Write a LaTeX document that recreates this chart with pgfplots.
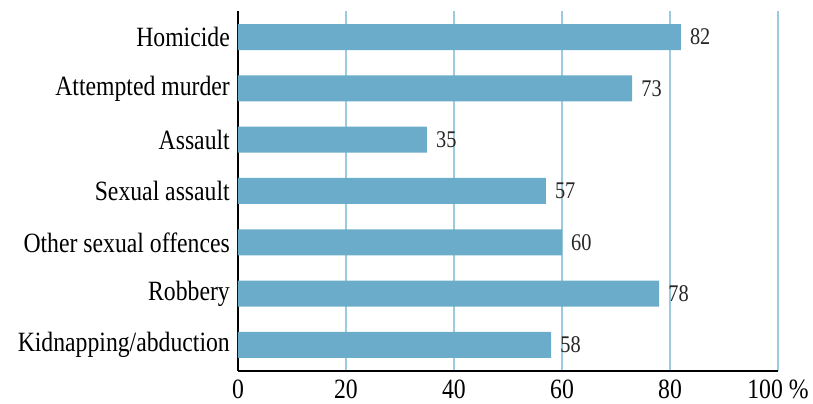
\documentclass[border=0pt]{standalone}
\usepackage{pgfplots}
\pgfplotsset{compat=1.18}
\usepackage{fontspec}
\setmainfont[FakeStretch=0.85]{Liberation Serif}

\definecolor{barblue}{HTML}{6AACCA}
\definecolor{gridblue}{HTML}{9BCBDD}

\begin{document}
\begin{tikzpicture}
\begin{axis}[
    name=ax,
    scale only axis,
    width=540bp, height=360bp,
    xbar,
    bar width=26bp,
    xmin=0, xmax=100,
    ymin=-0.507, ymax=6.507,
    ytick={0,1,2,3,4,5,6},
    yticklabels={Kidnapping/abduction, Robbery, Other sexual offences,
                 Sexual assault, Assault, Attempted murder, Homicide},
    xtick={0,20,40,60,80,100},
    xticklabels={0,20,40,60,80,{100 \%}},
    axis x line*=bottom,
    axis y line*=left,
    axis line style={black, line width=1.6bp, -},
    major tick length=0pt,
    xmajorgrids,
    grid style={color=gridblue, line width=1.2bp},
    tick label style={font=\fontsize{28}{30}\selectfont, inner sep=0pt},
    yticklabel style={xshift=-8bp},
    xticklabel style={yshift=-9bp},
    /pgf/number format/assume math mode=true,
    nodes near coords,
    nodes near coords style={font=\fontsize{24}{24}\selectfont, anchor=west,
                             inner sep=0pt, xshift=9bp, text=black!85},
    clip=false,
]
\addplot[fill=barblue, draw=none] coordinates {
    (58,0)
    (78,1)
    (60,2)
    (57,3)
    (35,4)
    (73,5)
    (82,6)
};
\end{axis}
\pgfresetboundingbox
\path ([xshift=-238bp,yshift=-33bp]ax.south west) rectangle ([xshift=35bp,yshift=11bp]ax.north east);
\end{tikzpicture}
\end{document}
